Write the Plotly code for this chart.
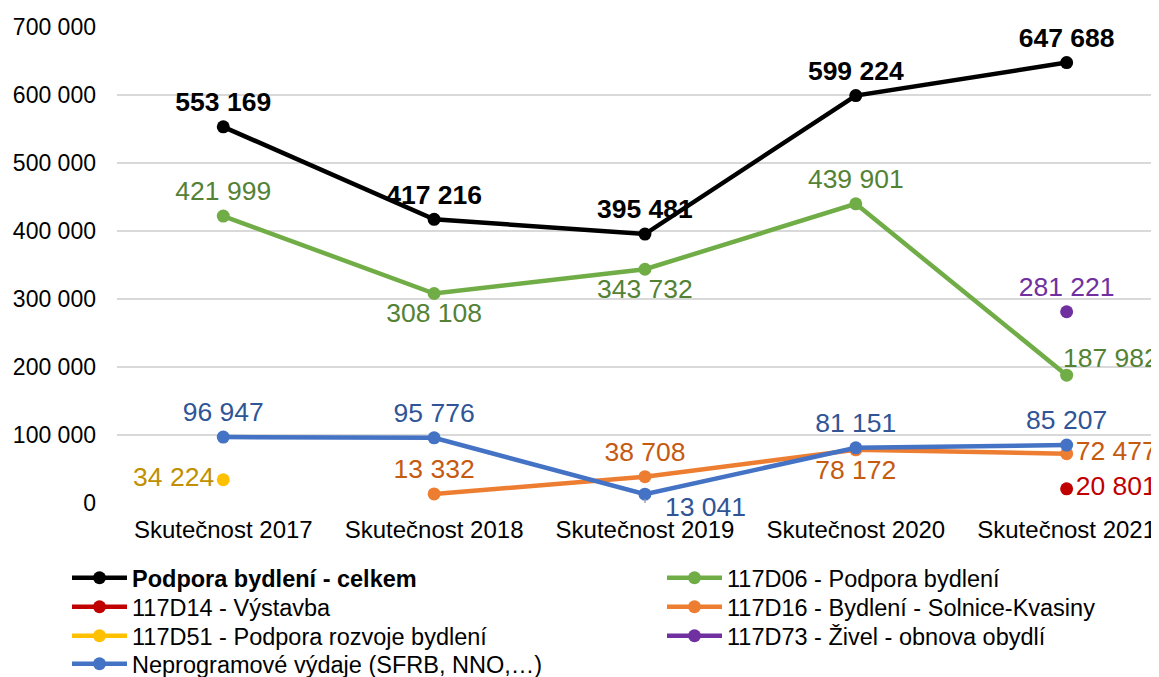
import plotly.graph_objects as go

categories = ["Skutečnost 2017", "Skutečnost 2018", "Skutečnost 2019", "Skutečnost 2020", "Skutečnost 2021"]

celkem = [553169, 417216, 395481, 599224, 647688]
d06 = [421999, 308108, 343732, 439901, 187982]
d14 = [None, None, None, None, 20801]
d16 = [None, 13332, 38708, 78172, 72477]
d51 = [34224, None, None, None, None]
d73 = [None, None, None, None, 281221]
neprog = [96947, 95776, 13041, 81151, 85207]

y_ticks = [0, 100000, 200000, 300000, 400000, 500000, 600000, 700000]

FONT = "Arial, Liberation Sans, sans-serif"
LABEL_SIZE = 26.5
# page body has a default 8px margin; size the figure to fill the rest of the window
OFF = 8
W, H = 1159 - OFF, 677 - OFF


def fmt(v):
    return f"{v:,}".replace(",", " ")


# pos: plotly textposition per point, or ("ann", xshift, yshift, xanchor, yanchor) for a shifted label
series = [
    dict(name="<b>Podpora bydlení - celkem</b>", y=celkem, line="#000000", label="#000000", bold=True,
         pos=["top center"] * 5, slot=(0, 0)),
    dict(name="117D06 - Podpora bydlení", y=d06, line="#70AD47", label="#548235", bold=False,
         pos=["top center", "bottom center", "bottom center", "top center", ("ann", -6, 17, "left", "middle")],
         slot=(1, 0)),
    dict(name="117D14 - Výstavba", y=d14, line="#C00000", label="#C00000", bold=False,
         pos=["middle right"] * 5, slot=(0, 1)),
    dict(name="117D16 - Bydlení - Solnice-Kvasiny", y=d16, line="#ED7D31", label="#C55A11", bold=False,
         pos=["top center", "top center", "top center", "bottom center", "middle right"], slot=(1, 1)),
    dict(name="117D51 - Podpora rozvoje bydlení", y=d51, line="#FFC000", label="#BF9000", bold=False,
         pos=["middle left"] * 5, slot=(0, 2)),
    dict(name="117D73 - Živel - obnova obydlí", y=d73, line="#7030A0", label="#7030A0", bold=False,
         pos=["top center"] * 5, slot=(1, 2)),
    dict(name="Neprogramové výdaje (SFRB, NNO,…)", y=neprog, line="#4472C4", label="#2F5597", bold=False,
         pos=["top center", "top center", ("ann", 18, -13, "left", "middle"), "top center", "top center"],
         slot=(0, 3)),
]

col_x = [73 - OFF, 668 - OFF]
row_y = [578 - OFF, 607 - OFF, 636 - OFF, 664 - OFF]

fig = go.Figure()
layout_legends = {}
annotations = []
shapes = []
for i, s in enumerate(series):
    lid = "legend" if i == 0 else f"legend{i + 1}"
    base = "<b>%{y:,d}</b>" if s["bold"] else "%{y:,d}"
    tmpls, tpos = [], []
    for j, p in enumerate(s["pos"]):
        if isinstance(p, tuple):
            tmpls.append("")
            tpos.append("top center")
            _, xs, ys, xa, ya = p
            annotations.append(dict(
                x=categories[j], y=s["y"][j], xref="x", yref="y", text=fmt(s["y"][j]),
                showarrow=False, xanchor=xa, yanchor=ya, xshift=xs, yshift=ys,
                font=dict(family=FONT, size=LABEL_SIZE, color=s["label"]),
            ))
            if ys < 0:
                # small grey leader line from the point to the shifted label
                for (x0, y0, x1, y1) in [(0, -5, 0, -12), (0, -12, 8, -12)]:
                    shapes.append(dict(
                        type="line", xref="x", yref="y", xsizemode="pixel", ysizemode="pixel",
                        xanchor=categories[j], yanchor=s["y"][j],
                        x0=x0, x1=x1, y0=y0, y1=y1, line=dict(color="#A6A6A6", width=1.5),
                    ))
        else:
            tmpls.append(base)
            tpos.append(p)
    fig.add_trace(go.Scatter(
        x=categories, y=s["y"], name=s["name"], mode="lines+markers+text",
        line=dict(color=s["line"], width=4.5),
        marker=dict(color=s["line"], size=13),
        texttemplate=tmpls, textposition=tpos,
        textfont=dict(family=FONT, size=LABEL_SIZE, color=s["label"]),
        cliponaxis=False, connectgaps=False, legend=lid,
    ))
    c, r = s["slot"]
    layout_legends[lid] = dict(
        xref="container", yref="container",
        x=(col_x[c] - 6) / W, y=1 - row_y[r] / H,
        xanchor="left", yanchor="middle", orientation="v",
        itemwidth=55, font=dict(family=FONT, size=23.5, color="#000000"),
        bgcolor="rgba(0,0,0,0)", borderwidth=0,
    )

fig.update_layout(
    width=W, height=H,
    margin=dict(l=117 - OFF, r=0, t=27 - OFF, b=174, autoexpand=False),
    paper_bgcolor="white", plot_bgcolor="white",
    separators=", ",
    font=dict(family=FONT, size=23, color="#000000"),
    xaxis=dict(type="category", range=[-0.504, 4.438], showgrid=False, zeroline=False,
               showline=False, ticks="", tickfont=dict(size=24, color="#000000"),
               ticklabelstandoff=10, automargin=False),
    yaxis=dict(range=[0, 700000], tickvals=y_ticks, tickformat=",d", showgrid=True,
               gridcolor="#D9D9D9", gridwidth=1.5, zeroline=False, showline=False,
               ticks="", tickfont=dict(size=23, color="#000000"), ticklabelstandoff=20,
               automargin=False),
    annotations=annotations,
    shapes=shapes,
    showlegend=True,
    **layout_legends,
)

fig.write_html("out.html")
